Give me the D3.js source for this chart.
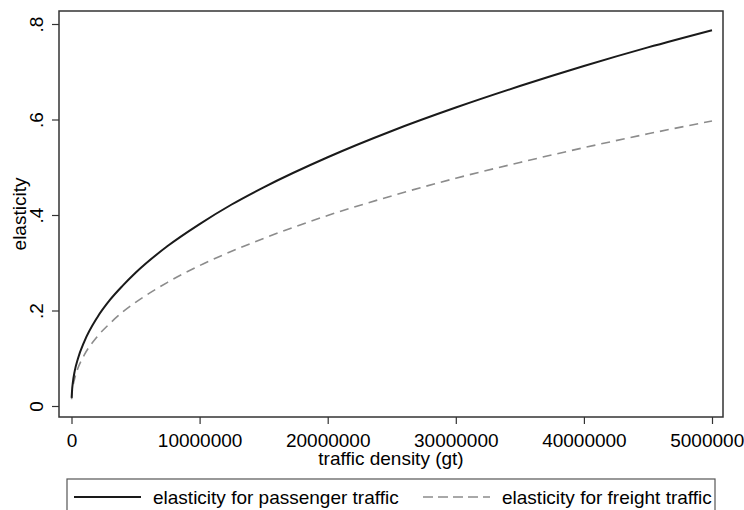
<!DOCTYPE html>
<html>
<head>
<meta charset="utf-8">
<script src="https://cdn.jsdelivr.net/npm/d3@7"></script>
<style>
  html, body { margin: 0; padding: 0; background: #fff; }
  svg { display: block; }
  text { font-family: "Liberation Sans", Arial, sans-serif; fill: #000; }
</style>
</head>
<body>
<svg id="chart" width="744" height="510"></svg>
<script>
// ---- data ----
const trafficDensity = [10000, 50000, 100000, 250000, 500000, 1000000, 2000000, 3000000, 4000000, 5000000,
  7500000, 10000000, 12500000, 15000000, 20000000, 25000000, 30000000, 35000000, 40000000, 45000000, 50000000];
const passengerElasticity = [0.017, 0.035, 0.048, 0.073, 0.099, 0.135, 0.185, 0.222, 0.252, 0.279,
  0.335, 0.381, 0.422, 0.458, 0.521, 0.576, 0.625, 0.670, 0.712, 0.751, 0.787];
const freightElasticity = [0.014, 0.029, 0.039, 0.058, 0.079, 0.107, 0.145, 0.173, 0.197, 0.217,
  0.259, 0.294, 0.324, 0.351, 0.399, 0.440, 0.477, 0.510, 0.541, 0.570, 0.597];
const xTickValues = [0, 10000000, 20000000, 30000000, 40000000, 50000000];
const xTickLabels = ["0", "10000000", "20000000", "30000000", "40000000", "50000000"];
const yTickValues = [0, 0.2, 0.4, 0.6, 0.8];
const yTickLabels = ["0", ".2", ".4", ".6", ".8"];
const seriesNames = ["elasticity for passenger traffic", "elasticity for freight traffic"];
const xTitle = "traffic density (gt)";
const yTitle = "elasticity";

// ---- layout ----
const svg = d3.select("#chart");
const frame = { left: 59, right: 723, top: 11, bottom: 417 };
const x = d3.scaleLinear().domain([0, 50000000]).range([71.5, 712]);
const y = d3.scaleLinear().domain([0, 0.8]).range([406, 24]);
const fontSize = 19;

// frame
svg.append("rect")
  .attr("x", frame.left).attr("y", frame.top)
  .attr("width", frame.right - frame.left).attr("height", frame.bottom - frame.top)
  .attr("fill", "none").attr("stroke", "#333").attr("stroke-width", 1.5);

// x axis
const xAxis = d3.axisBottom(x).tickValues(xTickValues).tickSize(7).tickPadding(9)
  .tickFormat((d, i) => xTickLabels[i]);
const gx = svg.append("g").attr("transform", `translate(0,${frame.bottom})`).call(xAxis);
gx.select(".domain").remove();
gx.selectAll(".tick line").attr("stroke", "#333").attr("stroke-width", 1.2);
gx.selectAll(".tick text").attr("font-size", fontSize)
  .attr("font-family", "Liberation Sans, Arial, sans-serif").attr("fill", "#000")
  .attr("dy", null).attr("y", 30);

// y axis
const yAxis = d3.axisLeft(y).tickValues(yTickValues).tickSize(7)
  .tickFormat((d, i) => yTickLabels[i]);
const gy = svg.append("g").attr("transform", `translate(${frame.left},0)`).call(yAxis);
gy.select(".domain").remove();
gy.selectAll(".tick line").attr("stroke", "#333").attr("stroke-width", 1.2);
gy.selectAll(".tick text").attr("font-size", fontSize)
  .attr("font-family", "Liberation Sans, Arial, sans-serif").attr("fill", "#000")
  .attr("x", null).attr("dy", null).attr("text-anchor", "middle")
  .attr("transform", "translate(-16,0) rotate(-90)");

// axis titles
svg.append("text").attr("x", (frame.left + frame.right) / 2).attr("y", 465)
  .attr("text-anchor", "middle").attr("font-size", fontSize).text(xTitle);
svg.append("text").attr("transform", `translate(26,${(frame.top + frame.bottom) / 2}) rotate(-90)`)
  .attr("text-anchor", "middle").attr("font-size", fontSize).text(yTitle);

// lines
const pts = (vals) => trafficDensity.map((d, i) => [d, vals[i]]);
const line = d3.line().x(d => x(d[0])).y(d => y(d[1])).curve(d3.curveMonotoneX);
svg.append("path").datum(pts(freightElasticity)).attr("d", line)
  .attr("fill", "none").attr("stroke", "#8c8c8c").attr("stroke-width", 1.6)
  .attr("stroke-dasharray", "9,6");
svg.append("path").datum(pts(passengerElasticity)).attr("d", line)
  .attr("fill", "none").attr("stroke", "#1a1a1a").attr("stroke-width", 2);

// legend
svg.append("rect").attr("x", 67).attr("y", 479).attr("width", 648).attr("height", 40)
  .attr("fill", "#fff").attr("stroke", "#555").attr("stroke-width", 1.2);
const legendY = 497;
svg.append("line").attr("x1", 74).attr("x2", 141).attr("y1", legendY).attr("y2", legendY)
  .attr("stroke", "#1a1a1a").attr("stroke-width", 2);
svg.append("text").attr("x", 153).attr("y", legendY + 7).attr("font-size", fontSize).text(seriesNames[0]);
svg.append("line").attr("x1", 423).attr("x2", 490).attr("y1", legendY).attr("y2", legendY)
  .attr("stroke", "#8c8c8c").attr("stroke-width", 1.6).attr("stroke-dasharray", "10,5");
svg.append("text").attr("x", 502).attr("y", legendY + 7).attr("font-size", fontSize).text(seriesNames[1]);
</script>
</body>
</html>
